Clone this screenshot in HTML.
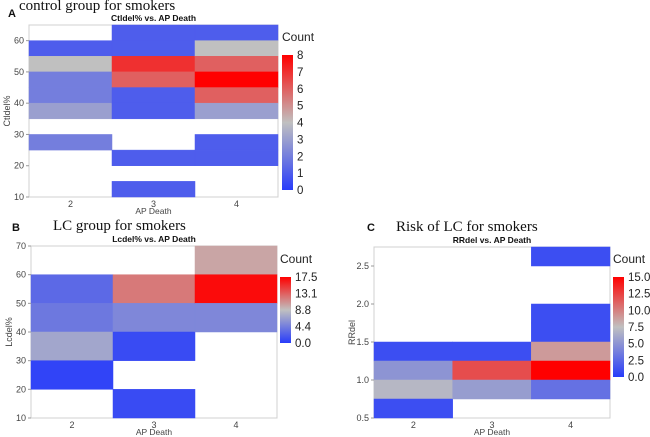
<!DOCTYPE html>
<html><head><meta charset="utf-8"><style>
body{margin:0;background:#fff;width:650px;height:437px;overflow:hidden}
svg{display:block}
</style></head><body>
<svg id="c" width="650" height="437" xmlns="http://www.w3.org/2000/svg" font-family="Liberation Sans, sans-serif"></svg>
<script>
// Panel A data: [apDeath, binLow, count]
const aCats=[2,3,4];
const aYTicks=[10,20,30,40,50,60];
const aCbTicks=[0,1,2,3,4,5,6,7,8];
const aCells=[[2,55,1],[2,50,4],[2,45,2],[2,40,2],[2,35,3],[2,25,2],
[3,60,1],[3,55,1],[3,50,7],[3,45,6],[3,40,1],[3,35,1],[3,20,1],[3,10,1],
[4,60,1],[4,55,4],[4,50,6],[4,45,8],[4,40,6],[4,35,3],[4,25,1],[4,20,1]];
// Panel B
const bCats=[2,3,4];
const bYTicks=[10,20,30,40,50,60,70];
const bCbTicks=["0.0","4.4","8.8","13.1","17.5"];
const bCells=[[2,50,3],[2,40,4],[2,30,7],[2,20,0.5],
[3,50,12],[3,40,5],[3,30,1],[3,10,1],
[4,60,10],[4,50,17],[4,40,5]];
// Panel C
const cCats=[2,3,4];
const cYTicks=["0.5","1.0","1.5","2.0","2.5"];
const cCbTicks=["0.0","2.5","5.0","7.5","10.0","12.5","15.0"];
const cCells=[[2,1.25,1],[2,1.0,5],[2,0.75,7],[2,0.5,1],
[3,1.25,1],[3,1.0,12],[3,0.75,5.5],
[4,2.5,1],[4,1.75,1],[4,1.5,1],[4,1.25,9],[4,1.0,15],[4,0.75,3]];

const NS="http://www.w3.org/2000/svg";
const svg=document.getElementById('c');
function mk(tag,at,txt,parent){const e=document.createElementNS(NS,tag);for(const k in at)e.setAttribute(k,at[k]);if(txt!==undefined)e.textContent=txt;(parent||svg).appendChild(e);return e;}
function col(v,max){
  const t=Math.max(0,Math.min(1,v/max));
  const lo=[40,60,250],mid=[192,192,192],hi=[255,0,0];
  let a,b,u; if(t<0.5){a=lo;b=mid;u=t/0.5}else{a=mid;b=hi;u=(t-0.5)/0.5}
  return 'rgb('+a.map((x,i)=>Math.round(x+(b[i]-x)*u)).join(',')+')';
}
function panel(o){
  const g=mk('g',{});
  
  
  const yS=v=>o.y0+(v-o.ymin)/(o.ymax-o.ymin)*(o.y1-o.y0);
  const colW=(o.x1-o.x0)/o.cats.length;
  const xS=c=>o.x0+o.cats.indexOf(c)*colW;
  const fr=mk('rect',{x:o.x0,y:o.y1,width:o.x1-o.x0,height:o.y0-o.y1,fill:'#fff',stroke:'#d0d0d0','stroke-width':1},undefined,g);
  
  o.cells.forEach(cl=>{
    const yt=yS(cl[1]+o.bin),yb=yS(cl[1]);
    const r=mk('rect',{x:xS(cl[0]),y:yt,width:colW,height:yb-yt,fill:col(cl[2],o.max),stroke:col(cl[2],o.max),'stroke-width':0.5},undefined,g);
    
    
  });
  o.yticks.forEach(t=>{const y=yS(parseFloat(t));
    mk('line',{x1:o.x0-3,x2:o.x0,y1:y,y2:y,stroke:'#999'},undefined,g);
    const tx=mk('text',{x:o.x0-5,y:y+3,'font-size':9,fill:'#444','text-anchor':'end'},t,g);
    });
  o.cats.forEach(c=>{const x=xS(c)+colW/2;
    const tx=mk('text',{x:x,y:o.y0+10,'font-size':9,fill:'#444','text-anchor':'middle'},c,g);
    });
  const xl=mk('text',{x:(o.x0+o.x1)/2,y:o.y0+17,'font-size':8.5,fill:'#444','text-anchor':'middle'},'AP Death',g);
  
  const yl=mk('text',{x:0,y:0,'font-size':9,fill:'#444','text-anchor':'middle',transform:'translate('+(o.x0-19)+','+((o.y0+o.y1)/2)+') rotate(-90)'},o.ylabel,g);
  
  const st=mk('text',{x:(o.x0+o.x1)/2,y:o.y1-4,'font-size':8.5,'font-weight':'bold',fill:'#111','text-anchor':'middle'},o.sub,g);
  
  const tt=mk('text',{x:o.tx,y:o.ty,'font-size':15,'font-family':'Liberation Serif, serif',fill:'#111'},o.title,g);
  
  const lt=mk('text',{x:o.lx,y:o.ly,'font-size':11,'font-weight':'bold',fill:'#111'},o.letter,g);
  
  const id='grad'+o.letter;
  const d=mk('defs',{},undefined,g);
  const lg=mk('linearGradient',{id:id,x1:0,y1:1,x2:0,y2:0},undefined,d);
  [0,0.5,1].forEach(s=>mk('stop',{offset:s,'stop-color':col(s*o.max,o.max)},undefined,lg));
  const cb=mk('rect',{x:o.cbx,y:o.cby0,width:11,height:o.cby1-o.cby0,fill:'url(#'+id+')'},undefined,g);
  
  const ct=mk('text',{x:o.cbx,y:o.cby0-14,'font-size':12,fill:'#222'},'Count',g);
  
  o.cbticks.forEach(t=>{const v=parseFloat(t);const y=o.cby1-(v/o.max)*(o.cby1-o.cby0);
    const tx=mk('text',{x:o.cbx+15,y:y+4,'font-size':11.5,fill:'#222'},t,g);
    });
}
panel({name:'panel-a',letter:'A',title:'control group for smokers',sub:'Ctldel% vs. AP Death',ylabel:'Ctldel%',
 x0:29,x1:278,y0:197,y1:25,ymin:10,ymax:65,bin:5,cats:aCats,cells:aCells,yticks:aYTicks,max:8,cbticks:aCbTicks,
 cbx:282,cby0:55,cby1:190,tx:19,ty:10,lx:8,ly:17});
panel({name:'panel-b',letter:'B',title:'LC group for smokers',sub:'Lcdel% vs. AP Death',ylabel:'Lcdel%',
 x0:31,x1:277,y0:418,y1:246,ymin:10,ymax:70,bin:10,cats:bCats,cells:bCells,yticks:bYTicks,max:17.5,cbticks:bCbTicks,
 cbx:280,cby0:277,cby1:343,tx:53,ty:230,lx:12,ly:231});
panel({name:'panel-c',letter:'C',title:'Risk of LC for smokers',sub:'RRdel vs. AP Death',ylabel:'RRdel',
 x0:374,x1:610,y0:418,y1:247,ymin:0.5,ymax:2.75,bin:0.25,cats:cCats,cells:cCells,yticks:cYTicks,max:15,cbticks:cCbTicks,
 cbx:613,cby0:277,cby1:377,tx:396,ty:231,lx:367,ly:231});
</script>
</body></html>
